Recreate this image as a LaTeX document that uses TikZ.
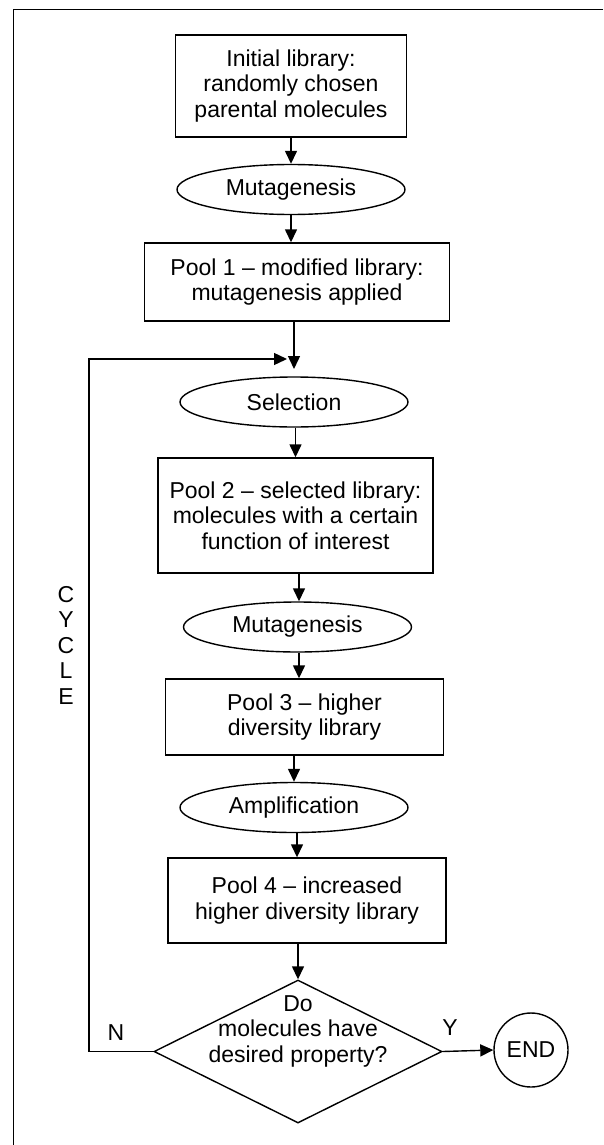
\documentclass[tikz,border=0pt]{standalone}
\usepackage{fontspec}
\setmainfont{Liberation Sans}
\usetikzlibrary{shapes.geometric,arrows.meta,calc}
\tikzset{
  txt/.style={font=\fontsize{23}{25.5}\selectfont, text=black, align=center, inner sep=0pt},
  boxnode/.style={txt, draw, line width=1.4pt, rectangle},
  ellnode/.style={txt, draw, line width=1.4pt, ellipse, minimum width=228pt, minimum height=50pt},
  decnode/.style={draw, line width=1.4pt, diamond, minimum width=288pt, minimum height=143pt, inner sep=0pt},
  endnode/.style={txt, draw, line width=1.4pt, circle, minimum size=74pt},
  arr/.style={line width=1.4pt, -{Triangle[length=13pt,width=12pt]}},
  frameline/.style={line width=1.8pt}
}
\begin{document}
\begin{tikzpicture}[x=1pt,y=-1pt]
\useasboundingbox (0,0) rectangle (603,1145);
% frame
\coordinate (ftr) at (603,9.5);
\coordinate (ftl) at (13.5,9.5);
\coordinate (fbl) at (13.5,1145);
\draw[frameline] (ftr) -- (ftl) -- (fbl);

\node[boxnode, minimum width=231pt, minimum height=102pt] (b1) at (291,86) {Initial library:\\randomly chosen\\parental molecules};
\node[ellnode] (e1) at (291,189.5) {Mutagenesis};
\node[boxnode, minimum width=305pt, minimum height=78pt] (b2) at (297,282) {Pool 1 -- modified library:\\mutagenesis applied};
\node[ellnode] (e2) at (294,402) {Selection};
\node[boxnode, minimum width=275pt, minimum height=115pt] (b3) at (295.5,515.5) {Pool 2 -- selected library:\\molecules with a certain\\function of interest};
\node[ellnode] (e3) at (297.5,627) {Mutagenesis};
\node[boxnode, minimum width=278pt, minimum height=76pt] (b4) at (304.5,717) {Pool 3 -- higher\\diversity library};
\node[ellnode] (e4) at (294,807.5) {Amplification};
\node[boxnode, minimum width=278pt, minimum height=85pt] (b5) at (307,900.5) {Pool 4 -- increased\\higher diversity library};
\node[decnode] (d) at (298,1051.5) {};
\node[txt] (dt) at (298,1031) {Do\\molecules have\\desired property?};
\node[endnode] (end) at (531,1050) {END};

\node[txt] (cyc) at (66,645) {\baselineskip=27.5pt C\\Y\\C\\L\\E};
\node[txt] (nlab) at (116,1033) {N};
\node[txt] (ylab) at (450,1028) {Y};

% arrows
\draw[arr] (b1.south -| e1.north) -- (e1.north);
\draw[arr] (e1.south) -- (e1.south |- b2.north);
\coordinate (mv) at (294,369);
\coordinate (mh) at (287,359);
\coordinate (lc) at (89,1051.5);
\draw[arr] (b2.south -| mv) -- (mv);
\draw[arr] (d.west) -- (lc) |- (mh);
\draw[arr] (e2.south -| b3.north) -- (b3.north);
\draw[arr] (b3.south -| 299,0) -- (e3.north -| 299,0);
\draw[arr] (e3.south -| 299,0) -- (b4.north -| 299,0);
\draw[arr] (b4.south -| e4.north) -- (e4.north);
\draw[arr] (e4.south -| 297,0) -- (b5.north -| 297,0);
\draw[arr] (b5.south -| d.north) -- (d.north);
\draw[arr] (d.east) -- (end.west);
\end{tikzpicture}
\end{document}
